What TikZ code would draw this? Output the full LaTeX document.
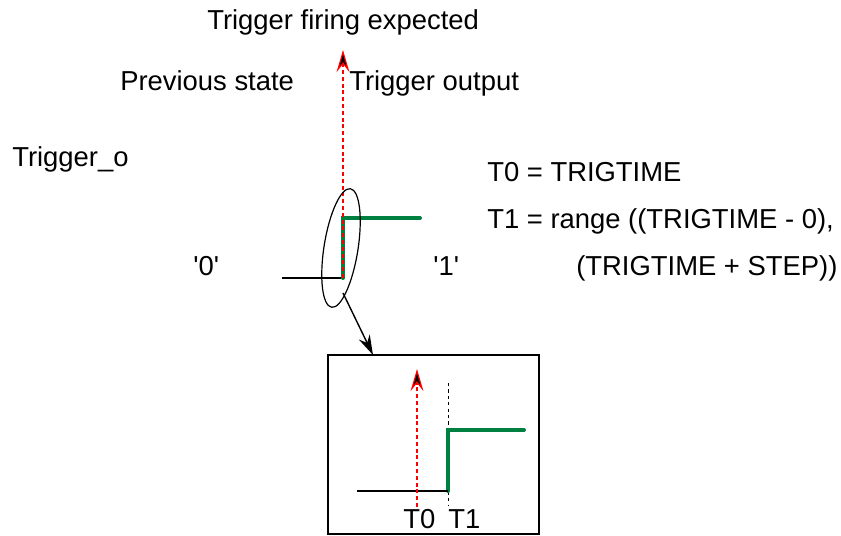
\documentclass[tikz,border=0pt]{standalone}
\usepackage{fontspec}
\setmainfont{Liberation Sans}
\usetikzlibrary{arrows.meta, positioning, shapes.geometric}
\definecolor{sigGreen}{RGB}{0,128,64}

\begin{document}
\begin{tikzpicture}[x=0.25mm, y=-0.25mm,
  every node/.style={font=\fontsize{19.5}{23}\selectfont, inner sep=0pt},
  lbl/.style={anchor=base west},
  sigline/.style={line width=0.35mm},
  outline/.style={draw=sigGreen, line width=1mm, line cap=round},
  fire/.style={draw=red, line width=0.3mm, dash pattern=on 1mm off 0.7mm,
    -{Stealth[length=5.5mm, width=3.2mm, inset=2mm, fill=black]}},
  mark1/.style={line width=0.25mm, dash pattern=on 0.8mm off 0.8mm}]
\useasboundingbox (0,0) rectangle (841,536);

% labels
\node[lbl] (fired) at (207,30) {Trigger firing expected};
\node[lbl] (prev) at (120,91) {Previous state};
\node[lbl] (outp) at (349,91) {Trigger output};
\node[lbl] (signame) at (12,167) {Trigger\_o};
\node[lbl] (t0def) at (487,182) {T0 = TRIGTIME};
\node[lbl] (t1def) at (487,229) {T1 = range ((TRIGTIME - 0),};
\node[lbl] (t1rest) at (576,276) {(TRIGTIME + STEP))};
\node[lbl] (lo) at (193,276) {\textquotesingle 0\textquotesingle};
\node[lbl] (hi) at (433,276) {\textquotesingle 1\textquotesingle};

% main waveform
\coordinate (lostart) at (282,278);
\coordinate (edge) at (343,278);
\coordinate (edgetop) at (343,218);
\coordinate (hiend) at (420,218);
\coordinate (firetip) at (343,50);
\draw[sigline] (lostart) -- (edge);
\draw[outline] (edge) -- (edgetop) -- (hiend);
\draw[fire] (edge) -- (firetip);

% highlight and zoom
\node[draw, ellipse, line width=0.3mm, minimum width=8.5mm, minimum height=30mm, rotate=-9] (hl) at (341,248) {};
\node[draw, line width=0.3mm, minimum width=52.75mm, minimum height=44.75mm] (zoombox) at (433.5,444.5) {};
\coordinate (zoomfrom) at (343,293);
\coordinate (zoomto) at (373,355);
\draw[sigline, -{Stealth[length=5mm, width=3mm]}] (zoomfrom) -- (zoomto);

% zoomed waveform
\coordinate (zlo) at (357,491);
\coordinate (zedge) at (448,491);
\coordinate (zedgetop) at (448,430);
\coordinate (zhiend) at (524,430);
\coordinate (mtop) at (448,383);
\coordinate (mbot) at (448,505);
\coordinate (zfirebot) at (417,507);
\coordinate (zfiretip) at (417,369);
\draw[mark1] (mtop) -- (mbot);
\draw[outline] (zedge) -- (zedgetop) -- (zhiend);
\draw[sigline] (zlo) -- (zedge);
\draw[fire] (zfirebot) -- (zfiretip);
\node[lbl] (t0) at (403,528) {T0};
\node[lbl] (t1) at (448,528) {T1};
\end{tikzpicture}
\end{document}
